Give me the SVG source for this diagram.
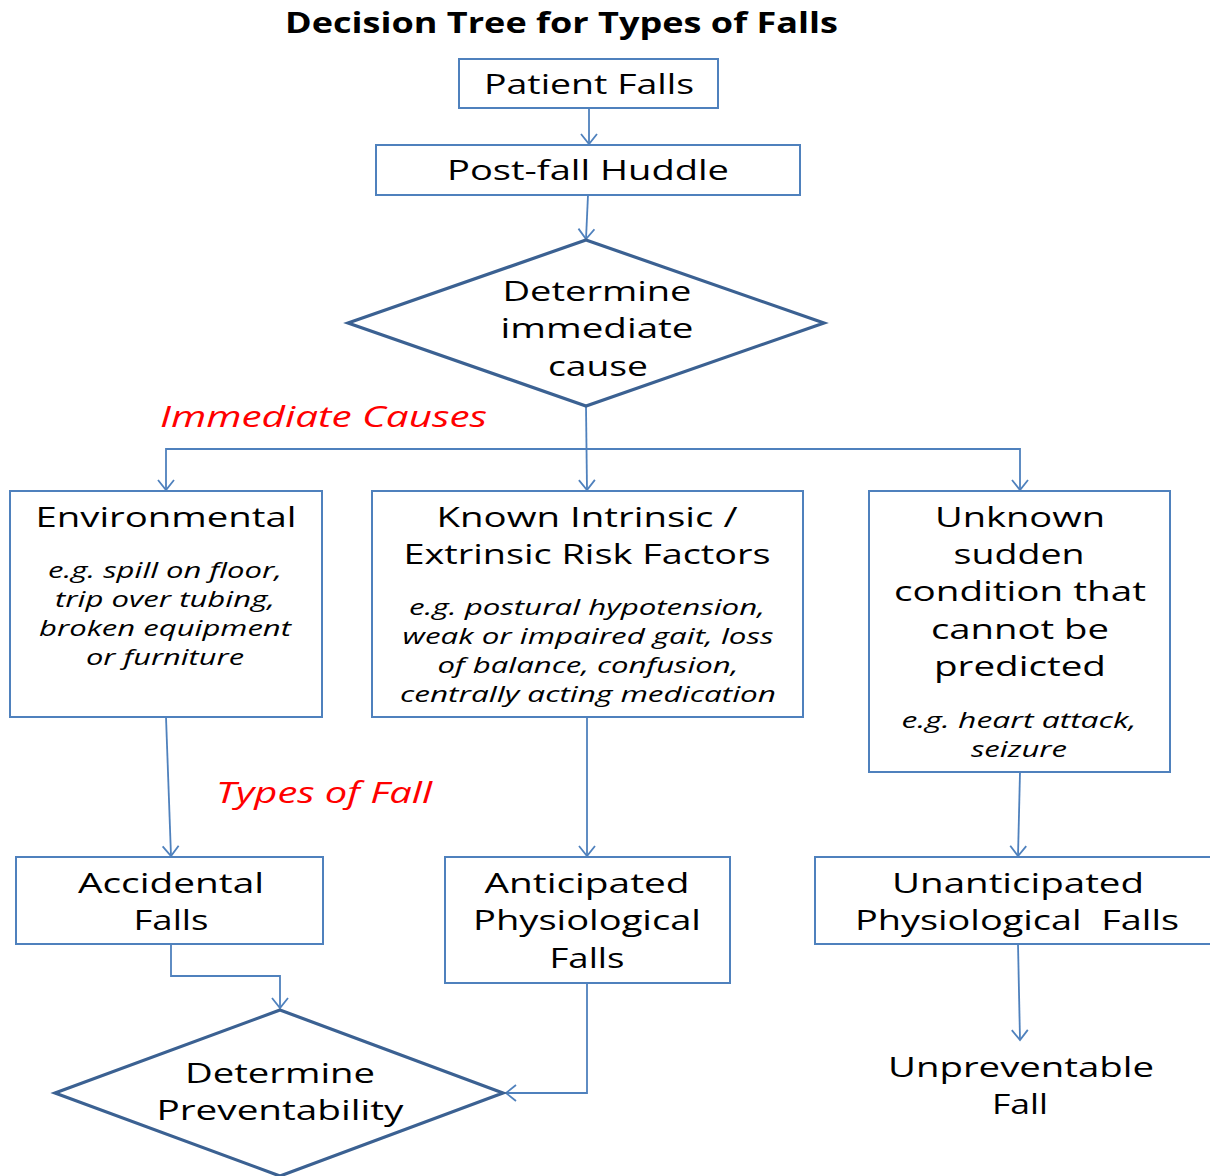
<svg xmlns="http://www.w3.org/2000/svg" width="1210" height="1176" viewBox="0 0 1210 1176">
  <style>
    .box { fill: #ffffff; stroke: #4F81BD; stroke-width: 2; }
    .dia { fill: #ffffff; stroke: #3B6192; stroke-width: 3.2; stroke-linejoin: miter; }
    .con { fill: none; stroke: #4F81BD; stroke-width: 1.8; }
    .t { font-family: "Open Sans", "DejaVu Sans", sans-serif; font-size: 28px; fill: #000000; text-anchor: middle; }
    .ex { font-family: "Open Sans", "DejaVu Sans", sans-serif; font-size: 21px; font-style: italic; fill: #000000; text-anchor: middle; }
    .red { font-family: "Open Sans", "DejaVu Sans", sans-serif; font-size: 29px; font-style: italic; fill: #FF0000; }
    .title { font-family: "Open Sans", "DejaVu Sans", sans-serif; font-size: 28px; font-weight: bold; fill: #000000; }
  </style>
  <defs>
    <marker id="arrow" markerUnits="userSpaceOnUse" markerWidth="20" markerHeight="20" refX="11" refY="9" orient="auto" viewBox="0 0 20 20">
      <path d="M1,1 L11,9 L1,17" fill="none" stroke="#4F81BD" stroke-width="1.8"/>
    </marker>
  </defs>
  <rect width="1210" height="1176" fill="#ffffff"/>

  <text class="title" x="285" y="33" textLength="553" lengthAdjust="spacingAndGlyphs">Decision Tree for Types of Falls</text>

  <!-- connectors -->
  <g id="connectors">
    <path class="con" d="M589,108 L589,144" marker-end="url(#arrow)"/>
    <path class="con" d="M588,195 L586,239" marker-end="url(#arrow)"/>
    <path class="con" d="M586,406 L587,490" marker-end="url(#arrow)"/>
    <path class="con" d="M587,449 L166,449 L166,490" marker-end="url(#arrow)"/>
    <path class="con" d="M587,449 L1020,449 L1020,490" marker-end="url(#arrow)"/>
    <path class="con" d="M166,717 L171,856" marker-end="url(#arrow)"/>
    <path class="con" d="M587,717 L587,856" marker-end="url(#arrow)"/>
    <path class="con" d="M1020,772 L1018,856" marker-end="url(#arrow)"/>
    <path class="con" d="M171,944 L171,976 L280,976 L280,1008" marker-end="url(#arrow)"/>
    <path class="con" d="M587,983 L587,1093 L506,1093" marker-end="url(#arrow)"/>
    <path class="con" d="M1018,944 L1020,1040" marker-end="url(#arrow)"/>
  </g>

  <g id="patient-falls">
    <rect class="box" x="459" y="59" width="259" height="49"/>
    <text class="t" x="589" y="94" textLength="210" lengthAdjust="spacingAndGlyphs">Patient Falls</text>
  </g>

  <g id="post-fall-huddle">
    <rect class="box" x="376" y="145" width="424" height="50"/>
    <text class="t" x="588" y="180" textLength="282" lengthAdjust="spacingAndGlyphs">Post-fall Huddle</text>
  </g>

  <g id="determine-cause">
    <polygon class="dia" points="586,240 824,323 586,406 348,323"/>
    <text class="t" x="597" y="301" textLength="189" lengthAdjust="spacingAndGlyphs">Determine</text>
    <text class="t" x="597" y="338" textLength="193" lengthAdjust="spacingAndGlyphs">immediate</text>
    <text class="t" x="598" y="376" textLength="100" lengthAdjust="spacingAndGlyphs">cause</text>
  </g>

  <text class="red" x="160" y="427" textLength="327" lengthAdjust="spacingAndGlyphs">Immediate Causes</text>

  <g id="environmental">
    <rect class="box" x="10" y="491" width="312" height="226"/>
    <text class="t" x="166" y="527" textLength="261" lengthAdjust="spacingAndGlyphs">Environmental</text>
    <text class="ex" x="165" y="578" textLength="234" lengthAdjust="spacingAndGlyphs">e.g. spill on floor,</text>
    <text class="ex" x="165" y="607" textLength="220" lengthAdjust="spacingAndGlyphs">trip over tubing,</text>
    <text class="ex" x="165" y="636" textLength="252" lengthAdjust="spacingAndGlyphs">broken equipment</text>
    <text class="ex" x="165" y="665" textLength="158" lengthAdjust="spacingAndGlyphs">or furniture</text>
  </g>

  <g id="known-risk-factors">
    <rect class="box" x="372" y="491" width="431" height="226"/>
    <text class="t" x="587" y="527" textLength="301" lengthAdjust="spacingAndGlyphs">Known Intrinsic /</text>
    <text class="t" x="587" y="564" textLength="367" lengthAdjust="spacingAndGlyphs">Extrinsic Risk Factors</text>
    <text class="ex" x="587" y="615" textLength="356" lengthAdjust="spacingAndGlyphs">e.g. postural hypotension,</text>
    <text class="ex" x="588" y="644" textLength="371" lengthAdjust="spacingAndGlyphs">weak or impaired gait, loss</text>
    <text class="ex" x="588" y="673" textLength="301" lengthAdjust="spacingAndGlyphs">of balance, confusion,</text>
    <text class="ex" x="588" y="702" textLength="376" lengthAdjust="spacingAndGlyphs">centrally acting medication</text>
  </g>

  <g id="unknown-condition">
    <rect class="box" x="869" y="491" width="301" height="281"/>
    <text class="t" x="1020" y="527" textLength="170" lengthAdjust="spacingAndGlyphs">Unknown</text>
    <text class="t" x="1019" y="564" textLength="131" lengthAdjust="spacingAndGlyphs">sudden</text>
    <text class="t" x="1020" y="601" textLength="252" lengthAdjust="spacingAndGlyphs">condition that</text>
    <text class="t" x="1020" y="639" textLength="178" lengthAdjust="spacingAndGlyphs">cannot be</text>
    <text class="t" x="1020" y="676" textLength="172" lengthAdjust="spacingAndGlyphs">predicted</text>
    <text class="ex" x="1019" y="728" textLength="235" lengthAdjust="spacingAndGlyphs">e.g. heart attack,</text>
    <text class="ex" x="1019" y="757" textLength="96" lengthAdjust="spacingAndGlyphs">seizure</text>
  </g>

  <text class="red" x="216" y="803" textLength="216" lengthAdjust="spacingAndGlyphs">Types of Fall</text>

  <g id="accidental-falls">
    <rect class="box" x="16" y="857" width="307" height="87"/>
    <text class="t" x="171" y="893" textLength="186" lengthAdjust="spacingAndGlyphs">Accidental</text>
    <text class="t" x="171" y="930" textLength="75" lengthAdjust="spacingAndGlyphs">Falls</text>
  </g>

  <g id="anticipated-falls">
    <rect class="box" x="445" y="857" width="285" height="126"/>
    <text class="t" x="587" y="893" textLength="205" lengthAdjust="spacingAndGlyphs">Anticipated</text>
    <text class="t" x="587" y="930" textLength="228" lengthAdjust="spacingAndGlyphs">Physiological</text>
    <text class="t" x="587" y="968" textLength="75" lengthAdjust="spacingAndGlyphs">Falls</text>
  </g>

  <g id="unanticipated-falls">
    <rect class="box" x="815" y="857" width="400" height="87"/>
    <text class="t" x="1018" y="893" textLength="252" lengthAdjust="spacingAndGlyphs">Unanticipated</text>
    <text class="t" x="1017" y="930" textLength="324" lengthAdjust="spacingAndGlyphs" xml:space="preserve">Physiological  Falls</text>
  </g>

  <g id="determine-preventability">
    <polygon class="dia" points="280,1010 503,1093 280,1176 55,1093"/>
    <text class="t" x="280" y="1083" textLength="190" lengthAdjust="spacingAndGlyphs">Determine</text>
    <text class="t" x="280" y="1120" textLength="247" lengthAdjust="spacingAndGlyphs">Preventability</text>
  </g>

  <g id="unpreventable-fall">
    <text class="t" x="1021" y="1077" textLength="266" lengthAdjust="spacingAndGlyphs">Unpreventable</text>
    <text class="t" x="1020" y="1114" textLength="56" lengthAdjust="spacingAndGlyphs">Fall</text>
  </g>
</svg>
